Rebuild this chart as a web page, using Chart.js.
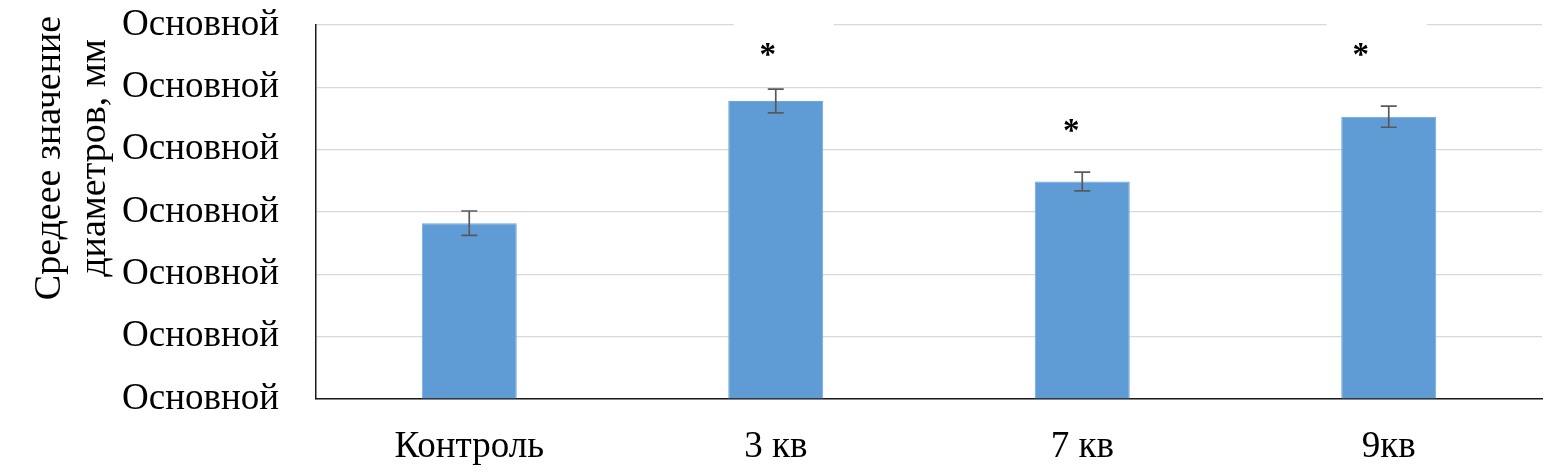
<!DOCTYPE html>
<html><head><meta charset="utf-8">
<script src="https://cdn.jsdelivr.net/npm/chart.js@4/dist/chart.umd.min.js"></script>
<style>html,body{margin:0;padding:0;background:#fff}#wrap{width:1560px;height:472px}</style>
</head><body><div id="wrap"><canvas id="c" width="1560" height="472"></canvas></div>
<script>
// ---- data ----
const categories = ['Контроль', '3 кв', '7 кв', '9кв'];
const means = [2.82, 4.78, 3.49, 4.53];
const errors = [0.196, 0.19, 0.15, 0.17];
const yTickLabel = 'Основной';
const yTitle = ['Средеее значение', 'диаметров, мм'];
const starLevels = [null, 5.6, 4.38, 5.6];   // value level of the significance mark
const starText = '*';

// ---- style ----
const FONT = "'Liberation Serif', 'Times New Roman', serif";
const starShift = [0, -8, -11, -28];          // px, horizontal nudge of the mark

const extras = {
  id: 'extras',
  beforeDatasetsDraw(chart) {
    const {ctx, scales: {x, y}} = chart;
    ctx.save();
    ctx.fillStyle = '#ffffff';
    starLevels.forEach((lv, i) => {
      if (lv == null) return;
      const cx = x.getPixelForValue(i) + starShift[i];
      const cy = y.getPixelForValue(lv);
      ctx.fillRect(cx - 34, cy - 30, 100, 50);
    });
    ctx.restore();
  },
  afterDatasetsDraw(chart) {
    const {ctx, scales: {x, y}} = chart;
    ctx.save();
    // error bars
    ctx.strokeStyle = '#595959';
    ctx.lineWidth = 1.7;
    means.forEach((m, i) => {
      const cx = x.getPixelForValue(i);
      const t = y.getPixelForValue(m + errors[i]);
      const b = y.getPixelForValue(m - errors[i]);
      ctx.beginPath();
      ctx.moveTo(cx, t); ctx.lineTo(cx, b);
      ctx.moveTo(cx - 8, t); ctx.lineTo(cx + 8, t);
      ctx.moveTo(cx - 8, b); ctx.lineTo(cx + 8, b);
      ctx.stroke();
    });
    // stars
    ctx.fillStyle = '#000';
    ctx.font = 'bold 33px ' + FONT;
    ctx.textAlign = 'center';
    ctx.textBaseline = 'alphabetic';
    starLevels.forEach((lv, i) => {
      if (lv == null) return;
      const cx = x.getPixelForValue(i) + starShift[i];
      const cy = y.getPixelForValue(lv);
      ctx.fillText(starText, cx, cy + 15);
    });
    // y title
    ctx.font = '38px ' + FONT;
    ctx.textBaseline = 'middle';
    ctx.fillStyle = '#000';
    const midY = 158;
    yTitle.forEach((line, k) => {
      ctx.save();
      ctx.translate(50 + k * 45, midY);
      ctx.rotate(-Math.PI / 2);
      ctx.fillText(line, 0, 0);
      ctx.restore();
    });
    ctx.restore();
  }
};

new Chart(document.getElementById('c'), {
  type: 'bar',
  data: {
    labels: categories,
    datasets: [{
      data: means,
      backgroundColor: '#5f9cd5',
      borderColor: '#6ea6da',
      borderWidth: 1,
      categoryPercentage: 1,
      barPercentage: 0.31
    }]
  },
  options: {
    responsive: false,
    animation: false,
    devicePixelRatio: 1,
    layout: {padding: {top: 25, right: 18, left: 0, bottom: 0}},
    plugins: {legend: {display: false}, tooltip: {enabled: false}},
    scales: {
      x: {
        grid: {display: false, drawTicks: false},
        border: {display: true, color: '#1a1a1a', width: 1.5},
        ticks: {color: '#000', font: {family: FONT, size: 37}, padding: 26, maxRotation: 0},
        afterFit(s) { s.height = 73; }
      },
      y: {
        min: 0, max: 6,
        grid: {color: '#d9d9d9', lineWidth: 1.2, drawTicks: false},
        border: {display: true, color: '#1a1a1a', width: 1.5},
        ticks: {stepSize: 1, color: '#000', font: {family: FONT, size: 37}, padding: 37,
                callback: () => yTickLabel},
        afterFit(s) { s.width = 316; s.paddingTop = 0; s.paddingBottom = 0; }
      }
    }
  },
  plugins: [extras]
});
</script></body></html>
